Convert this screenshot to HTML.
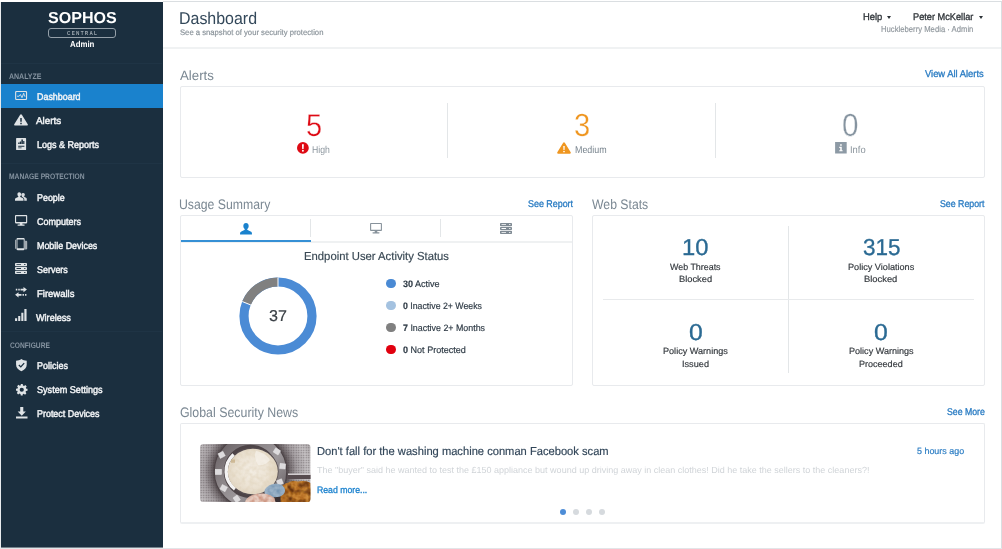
<!DOCTYPE html>
<html lang="en">
<head>
<meta charset="utf-8">
<title>Sophos Central Admin - Dashboard</title>
<meta name="viewport" content="width=1002, initial-scale=1">
<style>
html,body{margin:0;padding:0}
body{position:relative;width:1002px;height:549px;overflow:hidden;background:#fff;font-family:"Liberation Sans", Arial, Helvetica, sans-serif;-webkit-font-smoothing:antialiased;text-rendering:geometricPrecision}
h1,h2,h3,p,ul,li{margin:0;padding:0;font-weight:400;list-style:none}
a{text-decoration:none}
.t{position:absolute;display:block;white-space:nowrap;line-height:1;transform-origin:0 0}
.t b{font-weight:700}
.hvy{-webkit-text-stroke:.46px currentColor}
.med{-webkit-text-stroke:.32px currentColor}
.semi{-webkit-text-stroke:.18px currentColor}
.thin{-webkit-text-stroke:.32px #fff;paint-order:fill stroke}
.i{position:absolute;display:block;overflow:visible}
.frame-top{position:absolute;left:163px;top:1px;width:839px;height:1px;background:#dadee1}
.frame-right{position:absolute;left:1001px;top:1px;width:1px;height:548px;background:#dadee1}
.frame-bottom{position:absolute;left:0;top:548px;width:1002px;height:1px;background:#e2e5e8}
.frame-left{position:absolute;left:0;top:2px;width:1px;height:546px;background:#e9ecee}
.sb-bg{position:absolute;left:1px;top:2px;width:162px;height:545px;background:#1b2f3f;box-shadow:0 1px 0 rgba(27,47,63,.6)}
.sb-sep{position:absolute;left:1px;width:161px;height:1px;background:#1f3445}
.pill{position:absolute;left:48px;top:28.3px;width:66px;height:8px;border:1px solid #95a0a9;border-radius:3px}
.active-row{position:absolute;left:1px;top:84px;width:162px;height:24px;background:#1a82cd}
.hline{position:absolute;height:1px;background:#e8eaec}
.vline{position:absolute;width:1px;background:#e3e6e8}
.panel{position:absolute;box-sizing:border-box;border:1px solid #e8eaed;border-radius:2px;background:#fff}
.tab-active{position:absolute;height:2.2px;background:#3590d5}
.caret{position:absolute;width:0;height:0;border-left:2.7px solid transparent;border-right:2.7px solid transparent;border-top:3px solid #2b3136}
.dot{position:absolute;width:9.8px;height:9.8px;border-radius:50%}
.dot.pg{width:6.4px;height:6.4px}

</style>
</head>
<body>
<div class="frame-top"></div><div class="frame-right"></div><div class="frame-bottom"></div><div class="frame-left"></div>
<nav class="sidebar" aria-label="Main navigation">
<div class="sb-bg"></div>
<div class="sb-sep" style="top:62.6px"></div><div class="sb-sep" style="top:162.6px"></div><div class="sb-sep" style="top:331.2px"></div>
<div class="brand">
<span class="t" style="left:47.80px;top:11px;font-size:15.9px;color:#ffffff;transform:scaleX(1.0112);font-weight:700;">SOPHOS</span>
<div class="pill"></div>
<span class="t" style="left:66.61px;top:32px;font-size:5.8px;color:#9fa9b1;transform:scaleX(0.8016);font-weight:700;letter-spacing:1.6px;">CENTRAL</span>
<span class="t" style="left:69.84px;top:40px;font-size:8.6px;color:#ffffff;transform:scaleX(0.9133);font-weight:700;">Admin</span>
</div>
<div class="active-row"></div>
<ul class="menu">
<li class="section-label"><span class="t" style="left:8.86px;top:73px;font-size:8.0px;color:#8593a0;transform:scaleX(0.8746);font-weight:700;">ANALYZE</span></li>
<li aria-current="page"><svg class="i" style="left:15.0px;top:91.4px" width="12.2" height="9.0" viewBox="0 0 24 18" fill="#dfe3e6" color="#dfe3e6" aria-hidden="true"><path fill-rule="evenodd" d="M2.5 0h19A2.5 2.5 0 0 1 24 2.5v13a2.5 2.5 0 0 1-2.5 2.5h-19A2.5 2.5 0 0 1 0 15.500v-13A2.5 2.5 0 0 1 2.5 0zM3 2.200a.8.8 0 0 0-.8.8v12a.8.8 0 0 0 .8.8h18a.8.8 0 0 0 .8-.8V3a.8.8 0 0 0-.8-.8z"/><path fill="none" stroke="currentColor" stroke-width="1.8" stroke-linejoin="round" stroke-linecap="round" d="M4.600 10.400h3.400l2.600-3.400 3.200 6.400 3.400-9 1.700 6h1"/></svg><span class="t hvy" style="left:36.59px;top:93px;font-size:9.8px;color:#f2f4f6;transform:scaleX(0.9085);">Dashboard</span></li>
<li><svg class="i" style="left:14.0px;top:114.2px" width="14.0" height="11.6" viewBox="0 0 28 23" fill="#dfe3e6" color="#dfe3e6" aria-hidden="true"><path fill-rule="evenodd" d="M14 .4c.7 0 1.300.4 1.700 1l11.800 19c.7 1.200-.1 2.600-1.500 2.600H2C.6 23-.2 21.600.500 20.400L12.300 1.400c.4-.6 1-1 1.700-1zM12.500 8v7.600h3V8zm0 9.400v3h3v-3z"/></svg><span class="t hvy" style="left:36.20px;top:117px;font-size:9.8px;color:#f2f4f6;transform:scaleX(1.0038);">Alerts</span></li>
<li><svg class="i" style="left:16.0px;top:137.6px" width="10.2" height="12.0" viewBox="0 0 20 24" fill="#dfe3e6" color="#dfe3e6" aria-hidden="true"><path fill-rule="evenodd" d="M1.200 0h17.600c.7 0 1.200.5 1.200 1.200v21.600c0 .7-.5 1.200-1.200 1.200H1.200C.5 24 0 23.500 0 22.800V1.200C0 .5.500 0 1.200 0zM4.200 9v3h2.600V9zm3.200-1.800V12H10V7.200zm3.200-4V12h3V3.200zm3.600 2.600V12h2.400V5.800zM4.200 15.400v1.900h12.400v-1.900zm0 3.400v1.600H11v-1.600z"/></svg><span class="t hvy" style="left:36.58px;top:141px;font-size:9.8px;color:#f2f4f6;transform:scaleX(0.9199);">Logs &amp; Reports</span></li>
<li class="section-label"><span class="t" style="left:8.56px;top:173px;font-size:8.0px;color:#8593a0;transform:scaleX(0.8378);font-weight:700;">MANAGE PROTECTION</span></li>
<li><svg class="i" style="left:15.0px;top:192.0px" width="11.8" height="8.8" viewBox="0 0 25 18" fill="#dfe3e6" color="#dfe3e6" aria-hidden="true"><path d="M9 0c2.300 0 3.900 1.800 3.900 4.300 0 1.700-.7 3.300-1.800 4.200-.3.300-.4 1.300.3 1.700l4.600 2.200c1.300.6 2 1.600 2 2.900V18H0v-2.700c0-1.300.7-2.300 2-2.900l4.600-2.200c.7-.4.600-1.400.3-1.700C5.800 7.600 5.100 6 5.100 4.300 5.100 1.800 6.700 0 9 0z"/><path d="M17.700 1.600c1.900 0 3.200 1.500 3.200 3.500 0 1.400-.6 2.700-1.500 3.500-.3.200-.3 1 .2 1.300l3.800 1.800c1 .5 1.600 1.300 1.600 2.400V18h-5.400v-2.900c0-1.700-.9-3.100-2.600-3.900l-2.500-1.200c.4-.2.500-.9.200-1.200-.9-.8-1.400-2.200-1.400-3.700 0-2 1.500-3.500 3.400-3.500z" opacity=".95"/></svg><span class="t hvy" style="left:36.59px;top:194px;font-size:9.8px;color:#f2f4f6;transform:scaleX(0.9104);">People</span></li>
<li><svg class="i" style="left:15.0px;top:215.0px" width="12.2" height="10.8" viewBox="0 0 24 21" fill="#dfe3e6" color="#dfe3e6" aria-hidden="true"><path fill-rule="evenodd" d="M1.600 0h20.800c.9 0 1.600.7 1.600 1.600v13.200c0 .9-.7 1.600-1.600 1.600H14.600v2.400h3.600c.5 0 .9.400.9.900v.4c0 .5-.4.900-.9.900H5.800c-.5 0-.9-.4-.9-.9v-.4c0-.5.4-.9.900-.9h3.600v-2.400H1.600c-.9 0-1.600-.7-1.600-1.600V1.600C0 .7.700 0 1.600 0zm.6 2.200v11.600h19.600V2.200z"/></svg><span class="t hvy" style="left:36.85px;top:218px;font-size:9.8px;color:#f2f4f6;transform:scaleX(0.9194);">Computers</span></li>
<li><svg class="i" style="left:15.0px;top:238.0px" width="12.2" height="12.2" viewBox="0 0 24 24" fill="#dfe3e6" color="#dfe3e6" aria-hidden="true"><path fill-rule="evenodd" d="M5.200 0h11.600c1.200 0 2.200 1 2.200 2.200v19.600c0 1.200-1 2.200-2.200 2.200H5.200C4 24 3 23 3 21.800V2.200C3 1 4 0 5.200 0zM4.800 3v17h12.400V3z"/><path d="M.4 3.500h1.300v17.500H.4z"/><path d="M19.800 5.500h2.400c1 0 1.800.8 1.800 1.800v13.400c0 1-.8 1.800-1.800 1.800h-2.400z" opacity=".7"/></svg><span class="t hvy" style="left:36.59px;top:242px;font-size:9.8px;color:#f2f4f6;transform:scaleX(0.9078);">Mobile Devices</span></li>
<li><svg class="i" style="left:15.0px;top:263.0px" width="12.0" height="11.0" viewBox="0 0 24 22" fill="#dfe3e6" color="#dfe3e6" aria-hidden="true"><path fill-rule="evenodd" d="M1.600 0h20.800c.9 0 1.600.7 1.600 1.600v3.200c0 .9-.7 1.600-1.600 1.600H1.600C.7 6.400 0 5.700 0 4.800V1.600C0 .7.700 0 1.600 0zm0 7.800h20.800c.9 0 1.600.7 1.600 1.600v3.200c0 .9-.7 1.600-1.600 1.600H1.600c-.9 0-1.600-.7-1.600-1.600V9.400c0-.9.700-1.600 1.600-1.600zm0 7.800h20.800c.9 0 1.600.7 1.600 1.600v3.200c0 .9-.7 1.600-1.600 1.600H1.600C.7 22 0 21.300 0 20.400v-3.200c0-.9.700-1.600 1.600-1.600zM3 2.400v1.600h9V2.400zm0 7.800v1.600h9v-1.600zM3 18v1.600h9V18zM18.400 2.200v2h2.400v-2zm0 7.800v2h2.400v-2zm0 7.800v2h2.400v-2z"/></svg><span class="t hvy" style="left:36.90px;top:266px;font-size:9.8px;color:#f2f4f6;transform:scaleX(0.9127);">Servers</span></li>
<li><svg class="i" style="left:15.0px;top:287.0px" width="12.0" height="10.4" viewBox="0 0 24 21" fill="#dfe3e6" color="#dfe3e6" aria-hidden="true"><path d="M17 0l7 5.200-7 5.200V7H11V3.400h6zM1.500 3.400h3V7h-3zm5 0h3V7h-3zM7 10.600V14h6v3.600H7V21L0 15.800zm8 3.400h3v3.600h-3zm5 0h3v3.600h-3z"/></svg><span class="t hvy" style="left:36.54px;top:290px;font-size:9.8px;color:#f2f4f6;transform:scaleX(0.9672);">Firewalls</span></li>
<li><svg class="i" style="left:15.0px;top:309.4px" width="11.6" height="12.0" viewBox="0 0 23 24" fill="#dfe3e6" color="#dfe3e6" aria-hidden="true"><path d="M18.600 0H23v24h-4.400zM12.500 7.600h4.200V24h-4.200zM6.300 14h4.200v10H6.300zM0 18.600h4.200V24H0z"/></svg><span class="t hvy" style="left:36.00px;top:314px;font-size:9.8px;color:#f2f4f6;transform:scaleX(0.9295);">Wireless</span></li>
<li class="section-label"><span class="t" style="left:9.53px;top:342px;font-size:8.0px;color:#8593a0;transform:scaleX(0.8315);font-weight:700;">CONFIGURE</span></li>
<li><svg class="i" style="left:16.4px;top:359.0px" width="10.8" height="12.2" viewBox="0 0 21 24" fill="#dfe3e6" color="#dfe3e6" aria-hidden="true"><path fill-rule="evenodd" d="M10.500 0c3 2.200 6.300 3.300 10.500 3.500v7.300c0 6-3.900 10.600-10.500 13.200C3.900 21.400 0 16.800 0 10.800V3.500C4.200 3.300 7.500 2.200 10.500 0zM15 7.400l-5.700 6.300-3-2.800-1.700 1.800 4.800 4.500 7.500-8.200z"/></svg><span class="t hvy" style="left:37.38px;top:362px;font-size:9.8px;color:#f2f4f6;transform:scaleX(0.9160);">Policies</span></li>
<li><svg class="i" style="left:15.9px;top:383.5px" width="11.5" height="11.5" viewBox="0 0 24 24" fill="#dfe3e6" color="#dfe3e6" aria-hidden="true"><path fill-rule="evenodd" d="M10 0h4l.6 3.200c.8.200 1.500.5 2.200.9l2.700-1.800 2.800 2.800-1.800 2.700c.4.700.7 1.400.9 2.200L24 10v4l-3.200.6c-.2.800-.5 1.500-.9 2.200l1.800 2.700-2.800 2.800-2.700-1.800c-.7.400-1.400.7-2.200.9L14 24h-4l-.6-3.200c-.8-.2-1.500-.5-2.200-.9l-2.700 1.800-2.800-2.800 1.800-2.700c-.4-.7-.7-1.400-.9-2.200L0 14v-4l3.200-.6c.2-.8.5-1.500.9-2.200L2.300 4.500l2.800-2.800 2.700 1.800c.7-.4 1.400-.7 2.200-.9zm2 7.600a4.400 4.400 0 1 0 0 8.800 4.400 4.400 0 0 0 0-8.800z"/></svg><span class="t hvy" style="left:37.09px;top:386px;font-size:9.8px;color:#f2f4f6;transform:scaleX(0.9269);">System Settings</span></li>
<li><svg class="i" style="left:15.9px;top:407.1px" width="11.5" height="11.5" viewBox="0 0 24 24" fill="#dfe3e6" color="#dfe3e6" aria-hidden="true"><path d="M8.800 0h6.400v9.400h5.300L12 18.400 3.500 9.400h5.300zM0 20h24v4H0z"/></svg><span class="t hvy" style="left:37.39px;top:410px;font-size:9.8px;color:#f2f4f6;transform:scaleX(0.9112);">Protect Devices</span></li>
</ul>
</nav>
<header class="topbar">
<div class="hline" style="left:163px;top:47px;width:838px;height:2px;background:#f0f2f3"></div>
<h1 class="t" style="left:178.92px;top:10px;font-size:17.0px;color:#33485a;transform:scaleX(0.9385);">Dashboard</h1>
<p class="t semi" style="left:179.65px;top:29px;font-size:8.0px;color:#8a939a;transform:scaleX(0.9598);">See a snapshot of your security protection</p>
<div class="usermenu">
<span class="t med" style="left:862.65px;top:13px;font-size:9.7px;color:#2f3439;transform:scaleX(0.9694);">Help</span>
<i class="caret" style="left:887px;top:16px"></i>
<span class="t med" style="left:913.06px;top:13px;font-size:9.7px;color:#2f3439;transform:scaleX(0.9505);">Peter McKellar</span>
<i class="caret" style="left:979.2px;top:16px"></i>
<span class="t semi" style="left:880.98px;top:25px;font-size:8.6px;color:#92999f;transform:scaleX(0.8956);">Huckleberry Media · Admin</span>
</div>
</header>
<main>
<section class="alerts">
<h2 class="t" style="left:179.80px;top:69px;font-size:13.6px;color:#7b8893;transform:scaleX(0.9741);">Alerts</h2>
<a class="t med" href="#" style="left:925.40px;top:70px;font-size:9.8px;color:#2a7cc3;transform:scaleX(0.9564);">View All Alerts</a>
<div class="panel" style="left:180px;top:86px;width:805px;height:92px"></div>
<div class="vline" style="left:447px;top:103px;height:55px"></div>
<div class="vline" style="left:715px;top:103px;height:55px"></div>
<div class="stat"><span class="t thin" style="left:306.04px;top:110px;font-size:31.4px;color:#de0a14;transform:scaleX(0.9252);">5</span><svg class="i" style="left:297.2px;top:141.9px" width="11.8" height="11.8" viewBox="0 0 24 24" fill="#de0a14" color="#de0a14" aria-hidden="true"><path fill-rule="evenodd" d="M12 0a12 12 0 1 1 0 24 12 12 0 0 1 0-24zm-1.900 4.600l.5 9.400h2.800l.5-9.400zm1.900 11.200a2 2 0 1 0 0 4 2 2 0 0 0 0-4z"/></svg><span class="t" style="left:312.31px;top:146px;font-size:10.0px;color:#8b959d;transform:scaleX(0.8666);">High</span></div>
<div class="stat"><span class="t thin" style="left:573.58px;top:109px;font-size:32.0px;color:#ef9620;transform:scaleX(0.9115);">3</span><svg class="i" style="left:557.0px;top:142.2px" width="14.0" height="11.8" viewBox="0 0 28 24" fill="#ef9620" color="#ef9620" aria-hidden="true"><path fill-rule="evenodd" d="M14 .3c.7 0 1.300.4 1.700 1l11.900 19.800c.7 1.200-.1 2.700-1.500 2.700H1.900C.5 23.800-.3 22.300.400 21.100L12.300 1.300c.4-.6 1-1 1.700-1zM12.500 8l.4 8.200h2.200l.4-8.200zm1.500 9.600a1.700 1.700 0 1 0 0 3.400 1.700 1.700 0 0 0 0-3.400z"/></svg><span class="t" style="left:574.89px;top:146px;font-size:10.0px;color:#77838d;transform:scaleX(0.8905);">Medium</span></div>
<div class="stat"><span class="t thin" style="left:841.56px;top:109px;font-size:32.0px;color:#8694a0;transform:scaleX(0.9278);">0</span><svg class="i" style="left:834.6px;top:142.4px" width="11.8" height="11.6" viewBox="0 0 24 24" fill="#8d9aa5" color="#8d9aa5" aria-hidden="true"><path fill-rule="evenodd" d="M0 0h24v24H0zM10.400 4.400v3.600h3.400V4.400zM8.600 10v2.400h2V17h-2v2.400h7V17h-1.800v-7z"/></svg><span class="t" style="left:849.76px;top:146px;font-size:10.0px;color:#8b959d;transform:scaleX(0.9370);">Info</span></div>
</section>
<section class="usage">
<h2 class="t" style="left:179.48px;top:198px;font-size:13.8px;color:#7b8893;transform:scaleX(0.8886);">Usage Summary</h2>
<a class="t med" href="#" style="left:527.80px;top:200px;font-size:9.8px;color:#2a7cc3;transform:scaleX(0.9082);">See Report</a>
<div class="panel" style="left:180px;top:215px;width:393px;height:171px"></div>
<div class="tabs">
<div class="hline" style="left:181px;top:241px;width:391px;height:2px;background:#eff1f2"></div>
<div class="tab-active" style="left:181px;top:240px;width:130px;height:2px"></div>
<div class="vline" style="left:310.2px;top:219px;height:17.6px"></div>
<div class="vline" style="left:440px;top:219px;height:17.6px"></div>
<svg class="i" style="left:239.6px;top:223.0px" width="12.0" height="11.4" viewBox="0 0 24 23" fill="#1a82cd" color="#1a82cd" aria-hidden="true"><path d="M12 0c3.200 0 5.400 2.500 5.400 6 0 2.400-1 4.600-2.500 5.900-.5.400-.6 1.800.4 2.300l6.100 2.900c1.700.8 2.600 2.100 2.600 3.700V23H0v-2.200c0-1.600.9-2.900 2.600-3.700l6.100-2.900c1-.5.900-1.900.4-2.300C7.600 10.600 6.600 8.400 6.600 6 6.600 2.500 8.800 0 12 0z"/></svg>
<svg class="i" style="left:369.6px;top:223.3px" width="12.0" height="10.4" viewBox="0 0 24 21" fill="#87929b" color="#87929b" aria-hidden="true"><path fill-rule="evenodd" d="M1.600 0h20.800c.9 0 1.600.7 1.600 1.600v13.200c0 .9-.7 1.600-1.600 1.600H14.600v2.400h3.600c.5 0 .9.400.9.900v.4c0 .5-.4.900-.9.900H5.800c-.5 0-.9-.4-.9-.9v-.4c0-.5.4-.9.900-.9h3.600v-2.400H1.600c-.9 0-1.600-.7-1.600-1.600V1.600C0 .7.700 0 1.600 0zm.6 2.200v11.600h19.600V2.200z"/></svg>
<svg class="i" style="left:499.6px;top:223.0px" width="12.0" height="11.0" viewBox="0 0 24 22" fill="#7f8a93" color="#7f8a93" aria-hidden="true"><path fill-rule="evenodd" d="M1.600 0h20.800c.9 0 1.600.7 1.600 1.600v3.200c0 .9-.7 1.600-1.600 1.600H1.600C.7 6.400 0 5.700 0 4.800V1.600C0 .7.700 0 1.600 0zm0 7.800h20.800c.9 0 1.600.7 1.600 1.600v3.200c0 .9-.7 1.600-1.600 1.600H1.600c-.9 0-1.600-.7-1.600-1.600V9.400c0-.9.700-1.600 1.600-1.600zm0 7.800h20.800c.9 0 1.600.7 1.600 1.600v3.200c0 .9-.7 1.600-1.600 1.600H1.600C.7 22 0 21.300 0 20.400v-3.200c0-.9.700-1.600 1.600-1.600zM3 2.400v1.600h9V2.400zm0 7.800v1.600h9v-1.600zM3 18v1.600h9V18zM18.400 2.200v2h2.400v-2zm0 7.800v2h2.400v-2zm0 7.800v2h2.400v-2z"/></svg>
</div>
<h3 class="t semi" style="left:303.50px;top:251px;font-size:11.6px;color:#3a4955;transform:scaleX(0.9741);">Endpoint User Activity Status</h3>
<svg class="i" style="left:238.2px;top:276.3px" width="80" height="80" viewBox="-40 -40 80 80" role="img" aria-label="37 users"><circle r="34" fill="none" stroke="#4b8bd5" stroke-width="9.2"/><path d="M0 -34 A34 34 0 0 0 -31.51 -12.77" fill="none" stroke="#808080" stroke-width="9.2"/><path d="M0 -38.6 V-29.2 M-35.8 -14.5 L-27.1 -11" stroke="#fff" stroke-width="1" fill="none"/></svg>
<span class="t semi" style="left:269.04px;top:309px;font-size:15.6px;color:#3a4046;transform:scaleX(1.0320);">37</span>
<ul class="legend">
<li><i class="dot" style="left:386px;top:278.6px;background:#4a8ad4"></i><span class="t semi" style="left:402.82px;top:280px;font-size:9.3px;color:#2f3b46;transform:scaleX(0.9712);"><b>30</b> Active</span></li>
<li><i class="dot" style="left:386px;top:300.7px;background:#a4c2e0"></i><span class="t semi" style="left:402.69px;top:302px;font-size:9.3px;color:#2f3b46;transform:scaleX(0.9425);"><b>0</b> Inactive 2+ Weeks</span></li>
<li><i class="dot" style="left:386px;top:322.7px;background:#808080"></i><span class="t semi" style="left:402.65px;top:324px;font-size:9.3px;color:#2f3b46;transform:scaleX(0.9534);"><b>7</b> Inactive 2+ Months</span></li>
<li><i class="dot" style="left:386px;top:344.7px;background:#e1000f"></i><span class="t semi" style="left:402.68px;top:346px;font-size:9.3px;color:#2f3b46;transform:scaleX(0.9729);"><b>0</b> Not Protected</span></li>
</ul>
</section>
<section class="webstats">
<h2 class="t" style="left:592.20px;top:198px;font-size:13.8px;color:#7b8893;transform:scaleX(0.8868);">Web Stats</h2>
<a class="t med" href="#" style="left:940.40px;top:200px;font-size:9.8px;color:#2a7cc3;transform:scaleX(0.8960);">See Report</a>
<div class="panel" style="left:592px;top:215px;width:393px;height:171px"></div>
<div class="vline" style="left:788px;top:226px;height:147px"></div>
<div class="hline" style="left:603px;top:298.8px;width:371px"></div>
<div class="stat"><span class="t med" style="left:682.02px;top:236px;font-size:23.0px;color:#2b6a93;transform:scaleX(1.0336);">10</span><span class="t semi" style="left:670.00px;top:263px;font-size:9.0px;color:#34393e;transform:scaleX(0.9875);">Web Threats</span><span class="t semi" style="left:678.66px;top:275px;font-size:9.0px;color:#34393e;transform:scaleX(1.0342);">Blocked</span></div>
<div class="stat"><span class="t med" style="left:862.81px;top:236px;font-size:23.0px;color:#2b6a93;transform:scaleX(0.9775);">315</span><span class="t semi" style="left:847.67px;top:263px;font-size:9.0px;color:#34393e;transform:scaleX(1.0135);">Policy Violations</span><span class="t semi" style="left:864.25px;top:275px;font-size:9.0px;color:#34393e;transform:scaleX(1.0407);">Blocked</span></div>
<div class="stat"><span class="t med" style="left:688.53px;top:321px;font-size:23.0px;color:#2b6a93;transform:scaleX(1.0758);">0</span><span class="t semi" style="left:662.67px;top:347px;font-size:9.0px;color:#34393e;transform:scaleX(1.0103);">Policy Warnings</span><span class="t semi" style="left:681.58px;top:360px;font-size:9.0px;color:#34393e;transform:scaleX(1.0176);">Issued</span></div>
<div class="stat"><span class="t med" style="left:874.13px;top:321px;font-size:23.0px;color:#2b6a93;transform:scaleX(1.0758);">0</span><span class="t semi" style="left:848.67px;top:347px;font-size:9.0px;color:#34393e;transform:scaleX(1.0071);">Policy Warnings</span><span class="t semi" style="left:858.88px;top:360px;font-size:9.0px;color:#34393e;transform:scaleX(1.0033);">Proceeded</span></div>
</section>
<section class="news">
<h2 class="t" style="left:179.78px;top:406px;font-size:13.8px;color:#7b8893;transform:scaleX(0.8964);">Global Security News</h2>
<a class="t med" href="#" style="left:946.91px;top:408px;font-size:9.8px;color:#2a7cc3;transform:scaleX(0.8885);">See More</a>
<div class="panel" style="left:180px;top:423px;width:805px;height:101px;border-bottom:2px solid #eef0f2"></div>
<article>
<svg class="i" style="left:200.2px;top:444px" width="110.6" height="58.1" viewBox="0 0 110.6 58.1" role="img" aria-label="Washing machine drum">
<defs>
<clipPath id="nclip"><rect width="110.6" height="58.1" rx="3.600"/></clipPath>
<radialGradient id="drum" cx="50.500" cy="27.500" r="66" gradientUnits="userSpaceOnUse">
<stop offset=".54" stop-color="#4a4144"/><stop offset=".6" stop-color="#756d70"/><stop offset=".7" stop-color="#a7a1a4"/><stop offset=".86" stop-color="#c6c2c4"/><stop offset="1" stop-color="#b3aeb0"/>
</radialGradient>
<linearGradient id="rim" x1="0" y1="0" x2="1" y2="1">
<stop offset="0" stop-color="#665e61"/><stop offset=".35" stop-color="#8b8588"/><stop offset=".6" stop-color="#9d989b"/><stop offset="1" stop-color="#645c5f"/>
</linearGradient>
<radialGradient id="glass" cx="52" cy="26" r="27" gradientUnits="userSpaceOnUse">
<stop offset="0" stop-color="#f3ede3"/><stop offset=".6" stop-color="#ece3d4"/><stop offset="1" stop-color="#e0d4c0"/>
</radialGradient>
<pattern id="holes" width="2.5" height="2.5" patternUnits="userSpaceOnUse"><circle cx="1.250" cy="1.250" r=".72" fill="#3f3639" opacity=".5"/></pattern>
<filter id="tex" x="0" y="0" width="100%" height="100%"><feTurbulence type="fractalNoise" baseFrequency=".22" numOctaves="2" seed="7" result="n"/><feColorMatrix in="n" type="matrix" values="0 0 0 0 0  0 0 0 0 0  0 0 0 0 0  1.6 0 0 0 -.55" result="a"/><feComposite in="SourceGraphic" in2="a" operator="in"/></filter>
<filter id="tex2" x="0" y="0" width="100%" height="100%"><feTurbulence type="fractalNoise" baseFrequency=".16" numOctaves="2" seed="23" result="n"/><feColorMatrix in="n" type="matrix" values="0 0 0 0 0  0 0 0 0 0  0 0 0 0 0  2.6 0 0 0 -1" result="a"/><feComposite in="SourceGraphic" in2="a" operator="in"/></filter>
</defs>
<g clip-path="url(#nclip)">
<rect width="110.6" height="58.1" fill="url(#drum)"/>
<rect width="110.6" height="58.1" fill="url(#holes)"/>
<path d="M88 29.600h23v1.300H88z" fill="#d2cdcf"/>
<path d="M87.500 30.900h24v4H87.500z" fill="#574c4f"/>
<circle cx="50.500" cy="27.500" r="36.600" fill="#4d4447"/>
<circle cx="50.500" cy="27.500" r="31.200" fill="none" stroke="url(#rim)" stroke-width="9"/>
<ellipse cx="52.400" cy="27.500" rx="26.200" ry="24" fill="#554c4f"/>
<path d="M33.600 10.600A26 23.800 0 0 0 35 45.200" fill="none" stroke="#f3f2f2" stroke-width="3.400"/>
<ellipse cx="52.800" cy="27.500" rx="25" ry="22.800" fill="url(#glass)"/>
<g filter="url(#tex)"><ellipse cx="52.800" cy="27.500" rx="25" ry="22.800" fill="#d8c7aa" opacity=".5"/></g>
<path d="M56 7c6 1 11 4 14 9-3 4-8 6-12 5-3-5-4-10-2-14z" fill="#f8f5f0" opacity=".6"/>
<path d="M31 15.500h4v3.200h-4z" fill="#c6ad84" opacity=".75"/>
<g fill="#dddbdd" stroke="#f0eff0" stroke-width=".4">
<rect x="18.800" y="8.200" width="5.600" height="5.200" transform="rotate(-28 21.600 10.800)"/>
<rect x="15.200" y="25.200" width="6.400" height="5.400"/>
<rect x="20.800" y="41.500" width="5.800" height="5.200" transform="rotate(28 23.700 44.100)"/>
<rect x="33.800" y="52.400" width="5.800" height="5" transform="rotate(55 36.700 54.900)"/>
<rect x="74" y="4.900" width="5.800" height="5" transform="rotate(32 76.900 7.400)"/>
<rect x="79.800" y="19.600" width="5.600" height="5.200" transform="rotate(6 82.600 22.200)"/>
<rect x="77.200" y="35.600" width="5.400" height="5" transform="rotate(-22 79.900 38.100)"/>
</g>
<path d="M80 58.100V47c.5-4 4-8 9-8.600 2-1.800 6-2 9-.6 4.500-1.500 9-.8 12.600 1.500v18.800z" fill="#b46c22"/>
<g filter="url(#tex)"><path d="M80 58.100V47c.5-4 4-8 9-8.600 2-1.800 6-2 9-.6 4.500-1.500 9-.8 12.600 1.500v18.800z" fill="#dfa04a"/></g>
<g filter="url(#tex2)"><path d="M80 58.100V47c.5-4 4-8 9-8.600 2-1.800 6-2 9-.6 4.500-1.500 9-.8 12.600 1.500v18.800z" fill="#6a360e"/></g>
<path d="M74 50.500h6.500v7.600H74z" fill="#3b3133"/>
<path d="M65 45.500c2-4 8-6.500 13.500-5.500 4 .8 6.500 3.500 6.500 6.500s-3 6-7.500 6.500l-8.500.5c-3.500-1.500-5.500-4.500-4-8z" fill="#9bb2c7"/>
<g filter="url(#tex)"><path d="M65 45.500c2-4 8-6.500 13.500-5.500 4 .8 6.500 3.500 6.500 6.500s-3 6-7.500 6.500l-8.500.5c-3.500-1.500-5.500-4.500-4-8z" fill="#6f90ae"/></g>
<path d="M45 58.100c1.500-5 8-8.500 16-8.500 6 0 11 2 13.500 5l1 3.500z" fill="#e6cbbf"/>
<g filter="url(#tex)"><path d="M45 58.100c1.500-5 8-8.500 16-8.500 6 0 11 2 13.500 5l1 3.500z" fill="#c07d66"/></g>
</g>
</svg>
<h3 class="t semi" style="left:317.11px;top:446px;font-size:11.6px;color:#33475a;transform:scaleX(0.9620);">Don&#x27;t fall for the washing machine conman Facebook scam</h3>
<span class="t semi" style="left:916.94px;top:447px;font-size:9.0px;color:#2a7cc3;transform:scaleX(0.9913);">5 hours ago</span>
<p class="t" style="left:317.42px;top:466px;font-size:8.8px;color:#d0d4d8;transform:scaleX(1.0234);">The &quot;buyer&quot; said he wanted to test the £150 appliance but wound up driving away in clean clothes! Did he take the sellers to the cleaners?!</p>
<a class="t med" href="#" style="left:317.30px;top:486px;font-size:9.3px;color:#1f84cf;transform:scaleX(0.9349);">Read more...</a>
</article>
<div class="pager">
<i class="dot pg" style="left:559.8px;top:508.8px;background:#4d8dd7"></i>
<i class="dot pg" style="left:572.8px;top:508.8px;background:#d6dade"></i>
<i class="dot pg" style="left:585.8px;top:508.8px;background:#d6dade"></i>
<i class="dot pg" style="left:598.6px;top:508.8px;background:#d6dade"></i>
</div>
</section>
</main>
</body>
</html>
